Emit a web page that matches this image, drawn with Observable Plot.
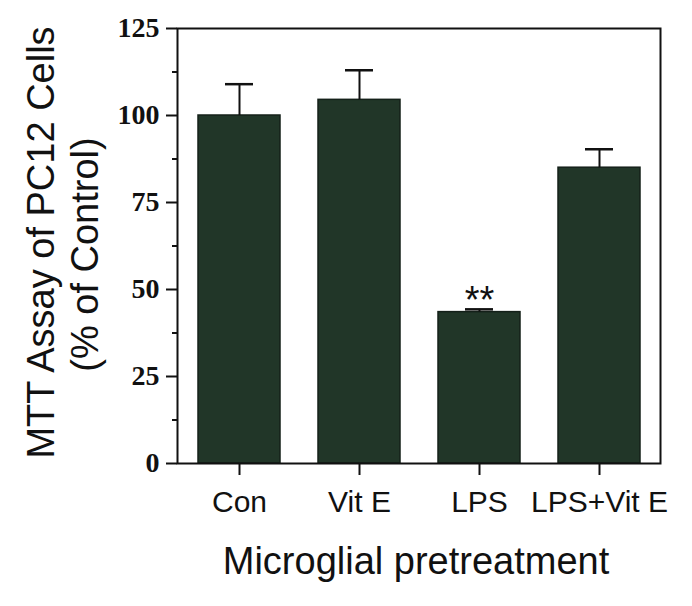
<!DOCTYPE html>
<html><head><meta charset="utf-8">
<script src="https://cdn.jsdelivr.net/npm/d3@7"></script>
<script src="https://cdn.jsdelivr.net/npm/@observablehq/plot@0.6"></script>
<style>body{margin:0;background:#fff}</style>
</head><body><div id="chart"></div>
<script>
const groups = ["Con", "Vit E", "LPS", "LPS+Vit E"];
const means = [100, 104.5, 43.5, 85];
const upperErr = [109, 113, 44.3, 90.3];
const significance = ["", "", "**", ""];
const yTicks = [0, 25, 50, 75, 100, 125];
const yMinorTicks = [12.5, 37.5, 62.5, 87.5, 112.5];
const yTitle = ["MTT Assay of PC12 Cells", "(% of Control)"];
const xTitle = "Microglial pretreatment";

const data = groups.map((g, i) => ({group: g, value: means[i], upper: upperErr[i], sig: significance[i]}));
const sans = "Liberation Sans, Arial, sans-serif";
const serif = "Liberation Serif, Times New Roman, serif";
const ink = "#111";

const chart = Plot.plot({
  width: 692,
  height: 606,
  marginLeft: 177,
  marginRight: 32,
  marginTop: 28,
  marginBottom: 143,
  style: {background: "#fff", color: ink, fontFamily: sans},
  x: {domain: groups, paddingInner: 0.32, paddingOuter: 0.16, axis: null},
  y: {domain: [0, 125], axis: null},
  marks: [
    Plot.barY(data, {x: "group", y: "value", fill: "#213628", stroke: "#142019", strokeWidth: 1.5}),
    Plot.ruleX(data, {x: "group", y1: "value", y2: "upper", stroke: ink, strokeWidth: 2}),
    Plot.tickY(data, {x: "group", y: "upper", stroke: ink, strokeWidth: 2.5, insetLeft: 27, insetRight: 27}),
    Plot.text(data, {x: "group", y: "upper", text: "sig", fontSize: 38, fontFamily: sans, lineAnchor: "bottom", dy: 4, fill: ink}),
    Plot.frame({stroke: ink, strokeWidth: 2}),
    Plot.axisY({ticks: yTicks, tickSize: 11, tickPadding: 7, label: null, fontSize: 28, fontFamily: serif, fontWeight: "bold", strokeWidth: 2}),
    Plot.axisY({ticks: yMinorTicks, tickSize: 5, tickFormat: () => "", label: null, strokeWidth: 2}),
    Plot.axisX({tickSize: 12, tickPadding: 15, label: null, fontSize: 30, fontFamily: sans, strokeWidth: 2}),
    Plot.text([yTitle[0]], {text: d => d, frameAnchor: "left", textAnchor: "middle", rotate: -90, dx: -136, dy: -3.5, fontSize: 38, fontFamily: sans, fill: ink}),
    Plot.text([yTitle[1]], {text: d => d, frameAnchor: "left", textAnchor: "middle", rotate: -90, dx: -92, dy: 8.5, fontSize: 38, fontFamily: sans, fill: ink}),
    Plot.text([xTitle], {text: d => d, frameAnchor: "bottom", dx: -3, dy: 110, fontSize: 38, fontFamily: sans, fill: ink})
  ]
});
document.getElementById("chart").appendChild(chart);
</script>
</body></html>
